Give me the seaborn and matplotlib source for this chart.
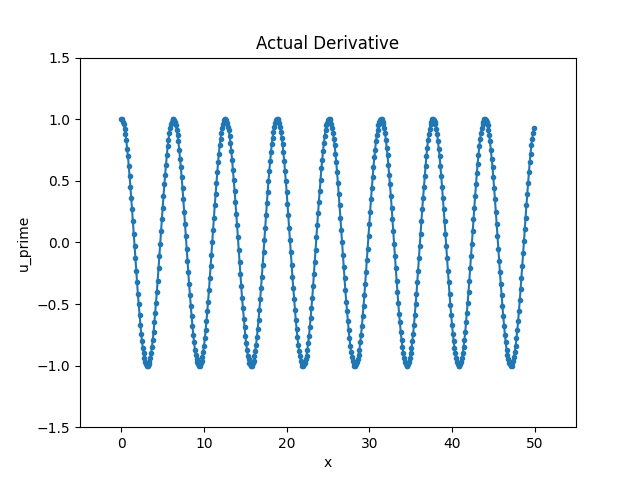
import matplotlib
matplotlib.use("Agg")
import matplotlib.pyplot as plt
import seaborn as sns

# sample points, 0.0 .. 49.9
x = [
    0.0, 0.1, 0.2, 0.3, 0.4, 0.5, 0.6, 0.7, 0.8, 0.9,
    1.0, 1.1, 1.2, 1.3, 1.4, 1.5, 1.6, 1.7, 1.8, 1.9,
    2.0, 2.1, 2.2, 2.3, 2.4, 2.5, 2.6, 2.7, 2.8, 2.9,
    3.0, 3.1, 3.2, 3.3, 3.4, 3.5, 3.6, 3.7, 3.8, 3.9,
    4.0, 4.1, 4.2, 4.3, 4.4, 4.5, 4.6, 4.7, 4.8, 4.9,
    5.0, 5.1, 5.2, 5.3, 5.4, 5.5, 5.6, 5.7, 5.8, 5.9,
    6.0, 6.1, 6.2, 6.3, 6.4, 6.5, 6.6, 6.7, 6.8, 6.9,
    7.0, 7.1, 7.2, 7.3, 7.4, 7.5, 7.6, 7.7, 7.8, 7.9,
    8.0, 8.1, 8.2, 8.3, 8.4, 8.5, 8.6, 8.7, 8.8, 8.9,
    9.0, 9.1, 9.2, 9.3, 9.4, 9.5, 9.6, 9.7, 9.8, 9.9,
    10.0, 10.1, 10.2, 10.3, 10.4, 10.5, 10.6, 10.7, 10.8, 10.9,
    11.0, 11.1, 11.2, 11.3, 11.4, 11.5, 11.6, 11.7, 11.8, 11.9,
    12.0, 12.1, 12.2, 12.3, 12.4, 12.5, 12.6, 12.7, 12.8, 12.9,
    13.0, 13.1, 13.2, 13.3, 13.4, 13.5, 13.6, 13.7, 13.8, 13.9,
    14.0, 14.1, 14.2, 14.3, 14.4, 14.5, 14.6, 14.7, 14.8, 14.9,
    15.0, 15.1, 15.2, 15.3, 15.4, 15.5, 15.6, 15.7, 15.8, 15.9,
    16.0, 16.1, 16.2, 16.3, 16.4, 16.5, 16.6, 16.7, 16.8, 16.9,
    17.0, 17.1, 17.2, 17.3, 17.4, 17.5, 17.6, 17.7, 17.8, 17.9,
    18.0, 18.1, 18.2, 18.3, 18.4, 18.5, 18.6, 18.7, 18.8, 18.9,
    19.0, 19.1, 19.2, 19.3, 19.4, 19.5, 19.6, 19.7, 19.8, 19.9,
    20.0, 20.1, 20.2, 20.3, 20.4, 20.5, 20.6, 20.7, 20.8, 20.9,
    21.0, 21.1, 21.2, 21.3, 21.4, 21.5, 21.6, 21.7, 21.8, 21.9,
    22.0, 22.1, 22.2, 22.3, 22.4, 22.5, 22.6, 22.7, 22.8, 22.9,
    23.0, 23.1, 23.2, 23.3, 23.4, 23.5, 23.6, 23.7, 23.8, 23.9,
    24.0, 24.1, 24.2, 24.3, 24.4, 24.5, 24.6, 24.7, 24.8, 24.9,
    25.0, 25.1, 25.2, 25.3, 25.4, 25.5, 25.6, 25.7, 25.8, 25.9,
    26.0, 26.1, 26.2, 26.3, 26.4, 26.5, 26.6, 26.7, 26.8, 26.9,
    27.0, 27.1, 27.2, 27.3, 27.4, 27.5, 27.6, 27.7, 27.8, 27.9,
    28.0, 28.1, 28.2, 28.3, 28.4, 28.5, 28.6, 28.7, 28.8, 28.9,
    29.0, 29.1, 29.2, 29.3, 29.4, 29.5, 29.6, 29.7, 29.8, 29.9,
    30.0, 30.1, 30.2, 30.3, 30.4, 30.5, 30.6, 30.7, 30.8, 30.9,
    31.0, 31.1, 31.2, 31.3, 31.4, 31.5, 31.6, 31.7, 31.8, 31.9,
    32.0, 32.1, 32.2, 32.3, 32.4, 32.5, 32.6, 32.7, 32.8, 32.9,
    33.0, 33.1, 33.2, 33.3, 33.4, 33.5, 33.6, 33.7, 33.8, 33.9,
    34.0, 34.1, 34.2, 34.3, 34.4, 34.5, 34.6, 34.7, 34.8, 34.9,
    35.0, 35.1, 35.2, 35.3, 35.4, 35.5, 35.6, 35.7, 35.8, 35.9,
    36.0, 36.1, 36.2, 36.3, 36.4, 36.5, 36.6, 36.7, 36.8, 36.9,
    37.0, 37.1, 37.2, 37.3, 37.4, 37.5, 37.6, 37.7, 37.8, 37.9,
    38.0, 38.1, 38.2, 38.3, 38.4, 38.5, 38.6, 38.7, 38.8, 38.9,
    39.0, 39.1, 39.2, 39.3, 39.4, 39.5, 39.6, 39.7, 39.8, 39.9,
    40.0, 40.1, 40.2, 40.3, 40.4, 40.5, 40.6, 40.7, 40.8, 40.9,
    41.0, 41.1, 41.2, 41.3, 41.4, 41.5, 41.6, 41.7, 41.8, 41.9,
    42.0, 42.1, 42.2, 42.3, 42.4, 42.5, 42.6, 42.7, 42.8, 42.9,
    43.0, 43.1, 43.2, 43.3, 43.4, 43.5, 43.6, 43.7, 43.8, 43.9,
    44.0, 44.1, 44.2, 44.3, 44.4, 44.5, 44.6, 44.7, 44.8, 44.9,
    45.0, 45.1, 45.2, 45.3, 45.4, 45.5, 45.6, 45.7, 45.8, 45.9,
    46.0, 46.1, 46.2, 46.3, 46.4, 46.5, 46.6, 46.7, 46.8, 46.9,
    47.0, 47.1, 47.2, 47.3, 47.4, 47.5, 47.6, 47.7, 47.8, 47.9,
    48.0, 48.1, 48.2, 48.3, 48.4, 48.5, 48.6, 48.7, 48.8, 48.9,
    49.0, 49.1, 49.2, 49.3, 49.4, 49.5, 49.6, 49.7, 49.8, 49.9,
]

# u_prime values, one cycle per block
u_prime = [
    # cycle 1
    1.00, 1.00, 0.98, 0.96, 0.92, 0.88, 0.83, 0.76, 0.70, 0.62,
    0.54, 0.45, 0.36, 0.27, 0.17, 0.07, -0.03, -0.13, -0.23, -0.32,
    -0.42, -0.50, -0.59, -0.67, -0.74, -0.80, -0.86, -0.90, -0.94, -0.97,
    -0.99, -1.00, -1.00, -0.99, -0.97, -0.94, -0.90, -0.85, -0.79, -0.73,
    -0.65, -0.57, -0.49, -0.40, -0.31, -0.21, -0.11, -0.01, 0.09, 0.19,
    0.28, 0.38, 0.47, 0.55, 0.63, 0.71, 0.78, 0.83, 0.89, 0.93,
    0.96, 0.98, 1.00,
    # cycle 2
    1.00, 0.99, 0.98, 0.95, 0.91, 0.87, 0.82, 0.75, 0.68, 0.61,
    0.53, 0.44, 0.35, 0.25, 0.15, 0.05, -0.05, -0.15, -0.24, -0.34,
    -0.43, -0.52, -0.60, -0.68, -0.75, -0.81, -0.87, -0.91, -0.95, -0.97,
    -0.99, -1.00, -1.00, -0.98, -0.96, -0.93, -0.89, -0.84, -0.78, -0.71,
    -0.64, -0.56, -0.48, -0.39, -0.29, -0.19, -0.10, 0.00, 0.10, 0.20,
    0.30, 0.39, 0.48, 0.57, 0.65, 0.72, 0.79, 0.84, 0.89, 0.93,
    0.96, 0.99, 1.00,
    # cycle 3
    1.00, 0.99, 0.97, 0.94, 0.91, 0.86, 0.81, 0.74, 0.67, 0.59,
    0.51, 0.42, 0.33, 0.23, 0.14, 0.04, -0.06, -0.16, -0.26, -0.35,
    -0.45, -0.53, -0.62, -0.69, -0.76, -0.82, -0.87, -0.92, -0.95, -0.98,
    -0.99, -1.00, -1.00, -0.98, -0.96, -0.92, -0.88, -0.83, -0.77, -0.70,
    -0.63, -0.55, -0.46, -0.37, -0.28, -0.18, -0.08, 0.02, 0.12, 0.22,
    0.32, 0.41, 0.50, 0.58, 0.66, 0.73, 0.80, 0.85, 0.90, 0.94,
    0.97, 0.99, 1.00,
    # cycle 4
    1.00, 0.99, 0.97, 0.94, 0.90, 0.85, 0.80, 0.73, 0.66, 0.58,
    0.50, 0.41, 0.31, 0.22, 0.12, 0.02, -0.08, -0.18, -0.28, -0.37,
    -0.46, -0.55, -0.63, -0.70, -0.77, -0.83, -0.88, -0.92, -0.96, -0.98,
    -1.00, -1.00, -0.99, -0.98, -0.95, -0.92, -0.87, -0.82, -0.76, -0.69,
    -0.61, -0.53, -0.45, -0.35, -0.26, -0.16, -0.06, 0.04, 0.14, 0.24,
    0.33, 0.42, 0.51, 0.60, 0.67, 0.74, 0.81, 0.86, 0.91, 0.95,
    0.97, 0.99, 1.00,
    # cycle 5
    1.00, 0.99, 0.96, 0.93, 0.89, 0.84, 0.79, 0.72, 0.65, 0.57,
    0.48, 0.39, 0.30, 0.20, 0.10, 0.00, -0.10, -0.20, -0.29, -0.39,
    -0.48, -0.56, -0.64, -0.71, -0.78, -0.84, -0.89, -0.93, -0.96, -0.98,
    -1.00, -1.00, -0.99, -0.97, -0.95, -0.91, -0.87, -0.81, -0.75, -0.68,
    -0.60, -0.52, -0.43, -0.34, -0.24, -0.14, -0.05, 0.05, 0.15, 0.25,
    0.35, 0.44, 0.53, 0.61, 0.69, 0.75, 0.82, 0.87, 0.91, 0.95,
    0.98, 0.99, 1.00,
    # cycle 6
    1.00, 0.98, 0.96, 0.93, 0.89, 0.83, 0.77, 0.71, 0.63, 0.55,
    0.47, 0.38, 0.28, 0.19, 0.09, -0.01, -0.11, -0.21, -0.31, -0.40,
    -0.49, -0.58, -0.65, -0.73, -0.79, -0.85, -0.90, -0.94, -0.97, -0.99,
    -1.00, -1.00, -0.99, -0.97, -0.94, -0.90, -0.86, -0.80, -0.74, -0.67,
    -0.59, -0.50, -0.42, -0.32, -0.23, -0.13, -0.03, 0.07, 0.17, 0.27,
    0.36, 0.45, 0.54, 0.62, 0.70, 0.77, 0.83, 0.88, 0.92, 0.96,
    0.98, 1.00, 1.00,
    # cycle 7
    0.99, 0.98, 0.96, 0.92, 0.88, 0.82, 0.76, 0.70, 0.62, 0.54,
    0.45, 0.36, 0.27, 0.17, 0.07, -0.03, -0.13, -0.23, -0.32, -0.42,
    -0.51, -0.59, -0.67, -0.74, -0.80, -0.86, -0.90, -0.94, -0.97, -0.99,
    -1.00, -1.00, -0.99, -0.97, -0.94, -0.90, -0.85, -0.79, -0.73, -0.65,
    -0.57, -0.49, -0.40, -0.31, -0.21, -0.11, -0.01, 0.09, 0.19, 0.28,
    0.38, 0.47, 0.56, 0.64, 0.71, 0.78, 0.84, 0.89, 0.93, 0.96,
    0.98, 1.00, 1.00,
    # cycle 8 (partial)
    0.99, 0.98, 0.95, 0.91, 0.87, 0.82, 0.75, 0.68, 0.61, 0.53,
    0.44, 0.35, 0.25, 0.15, 0.05, -0.05, -0.15, -0.24, -0.34, -0.43,
    -0.52, -0.60, -0.68, -0.75, -0.81, -0.87, -0.91, -0.95, -0.98, -0.99,
    -1.00, -1.00, -0.98, -0.96, -0.93, -0.89, -0.84, -0.78, -0.71, -0.64,
    -0.56, -0.47, -0.38, -0.29, -0.19, -0.09, 0.01, 0.11, 0.20, 0.30,
    0.39, 0.48, 0.57, 0.65, 0.72, 0.79, 0.84, 0.89, 0.93,
]

fig, ax = plt.subplots(figsize=(6.4, 4.8), dpi=100)

# plain matplotlib look, line with point markers
sns.lineplot(x=x, y=u_prime, ax=ax, color="#1f77b4", marker=".",
             markersize=6, markeredgecolor="#1f77b4", markeredgewidth=1,
             linewidth=1.5, errorbar=None, sort=False)

ax.set_xlim(-5, 55)
ax.set_ylim(-1.5, 1.5)
ax.set_title("Actual Derivative")
ax.set_xlabel("x")
ax.set_ylabel("u_prime")

fig.savefig("out.png", dpi=100)
